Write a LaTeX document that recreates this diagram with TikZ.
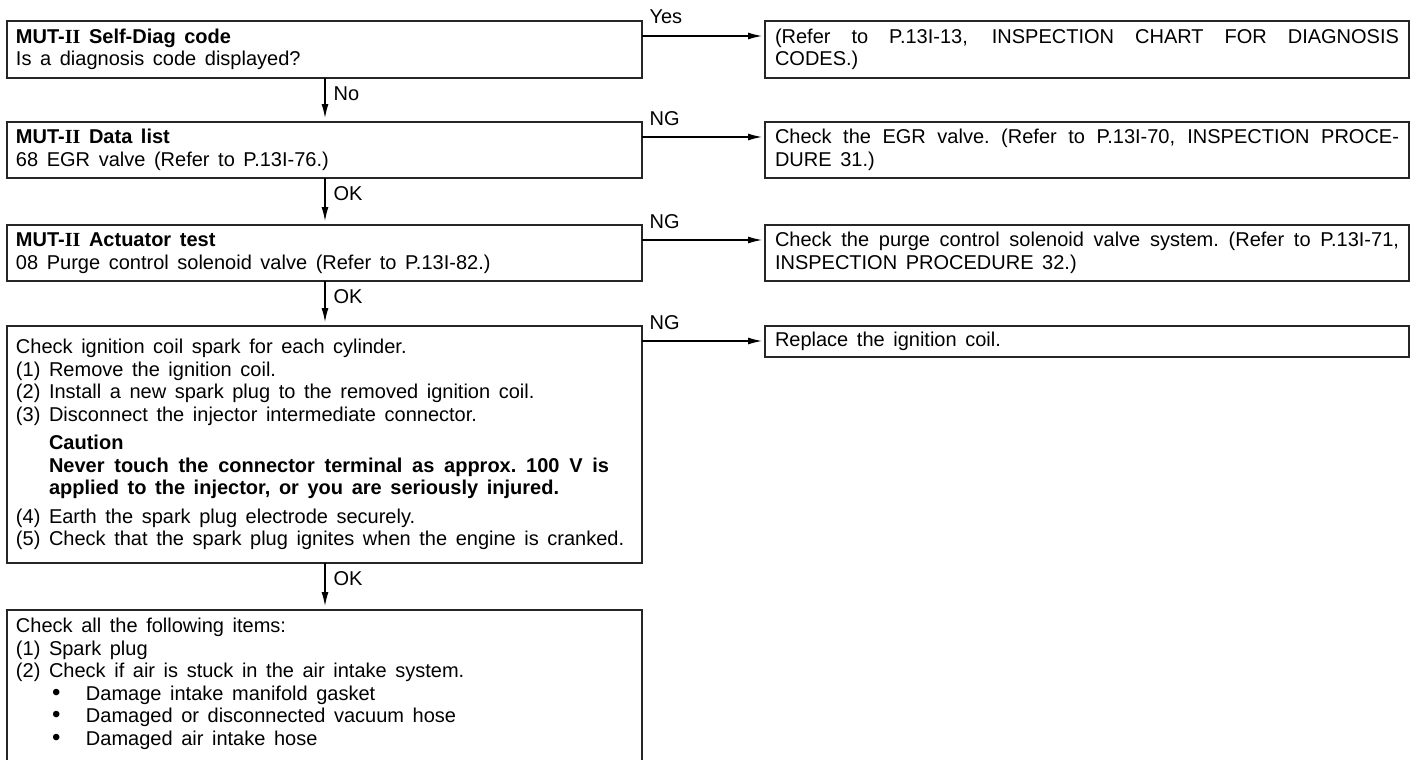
\documentclass[tikz,border=0pt]{standalone}
\usepackage{fontspec}
\setmainfont{Liberation Sans}
\newfontfamily\romfont{Liberation Serif}
\usepackage{tikz}
\usetikzlibrary{arrows.meta}
\def\II{{\romfont II}}
\def\ws{\spaceskip=4.3pt plus 4pt minus 1pt\xspaceskip=\spaceskip}
\def\bu{\hspace*{18pt}\makebox[17pt][l]{\smash{\fontsize{12}{11.25}\selectfont\textbullet}}}
\def\cind{\hphantom{(3)\ }}
\tikzstyle{qbox} = [draw=black!85, line width=0.6pt, anchor=north west, align=left, text width=308.5pt, inner xsep=4.5pt, inner ysep=0pt, outer sep=0pt, font=\fontsize{10}{11.25}\selectfont, execute at begin node=\ws]
\tikzstyle{rbox} = [qbox, text width=312pt, inner xsep=5pt]
\tikzstyle{arrow} = [line width=0.6pt, -{Latex[length=7pt,width=3.5pt]}, shorten >=1.5pt]
\tikzstyle{lbl} = [anchor=base west, inner sep=0pt, font=\fontsize{10}{11.25}\selectfont]

\begin{document}
\begin{tikzpicture}[x=0.5pt, y=-0.5pt]
      \useasboundingbox (0,0) rectangle (1413,760);
      \clip (0,0) rectangle (1413,760);
      % left column
      \node (diag) at (7,21) [qbox, minimum height=28.5pt] {{\bfseries MUT-\II\ Self-Diag code}\\ Is a diagnosis code displayed?};
      \node (data) at (7,122) [qbox, minimum height=28pt] {{\bfseries MUT-\II\ Data list}\\ 68 EGR valve (Refer to P.13I-76.)};
      \node (actu) at (7,225) [qbox, minimum height=28pt] {{\bfseries MUT-\II\ Actuator test}\\ 08 Purge control solenoid valve (Refer to P.13I-82.)};
      \node (spark) at (7,326) [qbox, minimum height=118.5pt] {Check ignition coil spark for each cylinder.\\
        (1) Remove the ignition coil.\\
        (2) Install a new spark plug to the removed ignition coil.\\
        (3) Disconnect the injector intermediate connector.\\[3pt]
        \cind{\bfseries Caution}\\
        \cind\makebox[280pt][s]{\bfseries Never touch the connector terminal as approx. 100 V is}\\
        \cind{\bfseries applied to the injector, or you are seriously injured.}\\[3pt]
        (4) Earth the spark plug electrode securely.\\
        (5) Check that the spark plug ignites when the engine is cranked.};
      \node (items) at (7,610) [qbox, draw=none, inner ysep=4pt] {Check all the following items:\\
        (1) Spark plug\\
        (2) Check if air is stuck in the air intake system.\\
        \bu Damage intake manifold gasket\\
        \bu Damaged or disconnected vacuum hose\\
        \bu Damaged air intake hose};
      \draw[draw=black!85, line width=0.6pt] ([yshift=-12pt]items.south west) |- (items.north east) -- ([yshift=-12pt]items.south east);
      % right column
      \node (refer) at (765,21) [rbox, minimum height=28.5pt] {\makebox[312pt][s]{(Refer to P.13I-13, INSPECTION CHART FOR DIAGNOSIS}\\ CODES.)};
      \node (egr) at (765,122) [rbox, minimum height=28pt] {\makebox[312pt][s]{Check the EGR valve. (Refer to P.13I-70, INSPECTION PROCE-}\\ DURE 31.)};
      \node (purge) at (765,225) [rbox, minimum height=28pt] {\makebox[312pt][s]{Check the purge control solenoid valve system. (Refer to P.13I-71,}\\ INSPECTION PROCEDURE 32.)};
      \node (coil) at (765,326) [rbox, minimum height=15.5pt] {Replace the ignition coil.};
      % branches to the right
      \draw[arrow] ([yshift=-7.5pt]diag.north east) -- node[lbl, pos=0, xshift=3.5pt, yshift=6pt] (yes) {Yes} ([yshift=-7.5pt]refer.north west);
      \draw[arrow] ([yshift=-7.5pt]data.north east) -- node[lbl, pos=0, xshift=3.5pt, yshift=6pt] (ng1) {NG} ([yshift=-7.5pt]egr.north west);
      \draw[arrow] ([yshift=-7.5pt]actu.north east) -- node[lbl, pos=0, xshift=3.5pt, yshift=6pt] (ng2) {NG} ([yshift=-7.5pt]purge.north west);
      \draw[arrow] ([yshift=-7.5pt]spark.north east) -- node[lbl, pos=0, xshift=3.5pt, yshift=6pt] (ng3) {NG} ([yshift=-7.5pt]coil.north west);
      % main line downwards
      \draw[arrow, shorten >=2pt] ([xshift=159pt]diag.south west) -- node[lbl, pos=0, xshift=4pt, yshift=-11pt] (no) {No} ([xshift=159pt]data.north west);
      \draw[arrow, shorten >=2pt] ([xshift=159pt]data.south west) -- node[lbl, pos=0, xshift=4pt, yshift=-11pt] (ok1) {OK} ([xshift=159pt]actu.north west);
      \draw[arrow, shorten >=2pt] ([xshift=159pt]actu.south west) -- node[lbl, pos=0, xshift=4pt, yshift=-11pt] (ok2) {OK} ([xshift=159pt]spark.north west);
      \draw[arrow, shorten >=2pt] ([xshift=159pt]spark.south west) -- node[lbl, pos=0, xshift=4pt, yshift=-11pt] (ok3) {OK} ([xshift=159pt]items.north west);
      \end{tikzpicture}
\end{document}
